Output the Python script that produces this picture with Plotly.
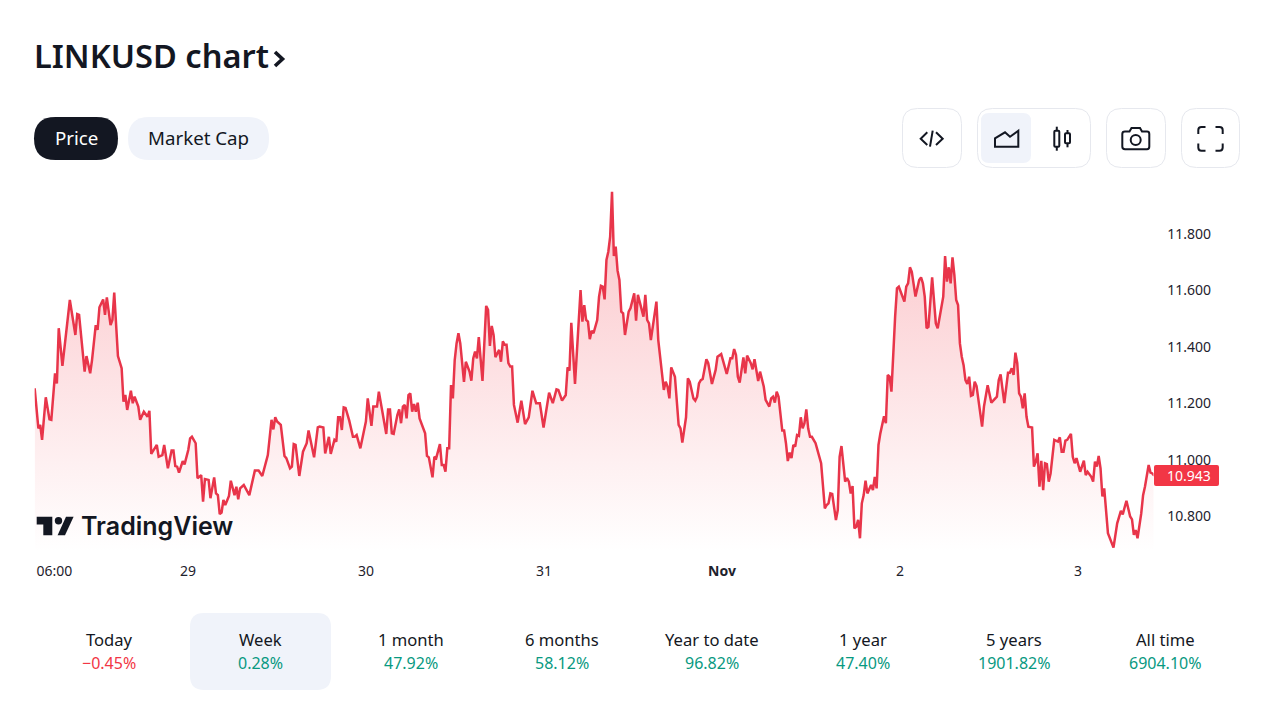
import pandas as pd
import plotly.graph_objects as go

# Bar numbers counted from the first bar (one bar is about a quarter of an hour), with the price read at each one
first_bar = "2023-10-28 03:20"
bar_minutes = 14.97
bars_a = [0,2,3,4,6,8,9,11,12,13,15,17,19,22,23,24,27,28,30,31,33,34,35,37,38,39,41,42,43,45,47,48,49,50,52,53,54,56,57,59,61,62,63,66,67,69,70,72,74,75,76,77,78,80,81,83,84,85,87,88,90,91,92,94,95,97,98,99,100,101,102,103,105,106,108,109,110,111,113,116,119,121,123,126,128,129,130,131,133,135,136,138,139,140,141,143,145,147,148,151,153,154]
price_a = [11.253,11.111,11.123,11.070,11.221,11.143,11.141,11.306,11.270,11.466,11.332,11.460,11.566,11.442,11.516,11.513,11.312,11.367,11.306,11.353,11.477,11.460,11.540,11.568,11.513,11.575,11.477,11.495,11.592,11.367,11.324,11.205,11.229,11.176,11.244,11.200,11.223,11.188,11.141,11.170,11.152,11.173,11.020,11.052,11.010,11.016,11.052,10.969,11.032,11.032,10.977,10.975,10.954,10.995,10.983,11.034,11.075,11.081,11.058,10.934,10.945,10.851,10.931,10.928,10.863,10.937,10.880,10.874,10.807,10.812,10.857,10.839,10.871,10.925,10.874,10.904,10.859,10.898,10.910,10.874,10.961,10.961,10.942,11.016,11.141,11.107,11.150,11.135,11.123,11.013,11.005,10.969,10.975,11.055,11.052,10.942,11.028,11.058,11.103,11.008,11.114,11.117]
bars_b = [156,157,159,160,162,163,164,165,166,167,168,170,172,173,174,176,179,180,182,183,185,186,188,190,191,192,193,194,196,197,198,199,200,201,202,203,204,205,206,207,208,211,212,213,215,216,217,219,220,221,222,223,224,225,226,227,228,229,230,232,233,235,236,237,238,239,240,241,242,244,245,246,247,248,249,251,252,253,254,255,256,257,258,259,261,263,265,267,269,271,273,275,278,280,282,283,285,287,288,289,290,292,293,295,296,297,298,299,300,301,302,304,305,306,307,308,309,310,311,312,313,314,315,316]
price_b = [11.114,11.022,11.081,11.020,11.070,11.064,11.150,11.150,11.105,11.185,11.183,11.138,11.081,11.081,11.087,11.040,11.135,11.217,11.120,11.188,11.188,11.241,11.164,11.091,11.178,11.178,11.093,11.091,11.158,11.178,11.129,11.188,11.194,11.146,11.229,11.235,11.170,11.197,11.170,11.202,11.146,11.093,11.013,11.008,10.937,11.010,11.005,11.055,10.981,10.981,10.957,11.040,11.040,11.264,11.217,11.353,11.412,11.448,11.412,11.276,11.347,11.312,11.280,11.359,11.383,11.359,11.434,11.359,11.279,11.545,11.531,11.403,11.474,11.442,11.363,11.389,11.347,11.419,11.407,11.407,11.342,11.330,11.330,11.194,11.131,11.209,11.126,11.150,11.244,11.200,11.200,11.114,11.237,11.200,11.249,11.247,11.209,11.229,11.327,11.315,11.485,11.268,11.377,11.601,11.489,11.548,11.495,11.489,11.427,11.457,11.448,11.495,11.578,11.616,11.613,11.568,11.708,11.737,11.791,11.950,11.722,11.755,11.670,11.637]
bars_c = [317,318,319,321,322,324,325,326,329,330,331,332,333,336,337,339,340,341,342,343,344,346,348,349,350,352,353,354,356,357,358,359,360,361,363,364,366,368,369,371,372,374,376,377,378,379,380,381,383,384,385,387,388,389,391,392,394,395,397,398,399,400,401,402,404,405,406,407,408,409,410,411,412,413,414,415,416,417,418,419,420,422,425,427,428,429,430,431,433,434,435,436,438,439,440,441,442,443,444,445,446,447,448,449,450,452,453,454,455,456,457,459,460,461,462,463,465,466,467,470,471,472,473,474,476,478]
price_c = [11.525,11.519,11.442,11.525,11.537,11.590,11.493,11.584,11.507,11.584,11.495,11.483,11.424,11.560,11.424,11.294,11.247,11.276,11.259,11.217,11.327,11.294,11.123,11.111,11.060,11.150,11.288,11.276,11.217,11.209,11.223,11.270,11.282,11.286,11.356,11.342,11.268,11.318,11.365,11.374,11.347,11.304,11.359,11.359,11.392,11.371,11.294,11.273,11.362,11.306,11.369,11.342,11.320,11.356,11.279,11.312,11.259,11.212,11.188,11.217,11.223,11.202,11.241,11.223,11.103,11.103,11.058,10.995,11.025,11.005,11.052,11.046,11.087,11.084,11.150,11.111,11.129,11.178,11.111,11.081,11.081,11.058,10.987,10.827,10.839,10.845,10.880,10.878,10.786,10.821,11.010,11.048,10.922,10.934,10.922,10.880,10.906,10.756,10.762,10.786,10.721,10.845,10.874,10.925,10.880,10.910,10.892,10.939,10.898,11.052,11.093,11.154,11.129,11.300,11.294,11.241,11.507,11.607,11.613,11.560,11.613,11.625,11.682,11.666,11.578,11.637]
bars_d = [479,480,481,482,483,485,487,488,491,492,493,494,495,496,497,498,499,500,501,502,503,504,505,506,507,508,509,512,513,515,517,519,520,521,522,524,526,527,528,529,530,531,532,533,534,535,536,537,539,540,541,542,543,544,545,546,547,548,549,551,553,554,555,556,557,558,560,561,562,563,565,567,568,569,571,572,573,574,575,576,577,578,580,583,585,587,588,590,592,593,594,595,596,598,599,600,602,603,604,605]
price_d = [11.646,11.625,11.578,11.466,11.471,11.646,11.483,11.466,11.578,11.722,11.631,11.682,11.625,11.717,11.655,11.566,11.548,11.412,11.365,11.335,11.282,11.268,11.294,11.226,11.229,11.276,11.261,11.117,11.188,11.264,11.202,11.217,11.223,11.282,11.302,11.200,11.308,11.308,11.324,11.300,11.379,11.342,11.235,11.223,11.182,11.235,11.152,11.117,11.114,10.975,10.993,11.022,10.904,10.996,10.892,10.987,10.984,10.922,10.951,11.070,11.064,11.079,11.028,11.028,11.067,11.070,11.091,11.010,10.987,11.005,10.957,10.996,10.945,10.957,10.939,10.922,10.993,10.975,11.013,10.969,10.869,10.898,10.739,10.688,10.774,10.818,10.806,10.854,10.798,10.788,10.733,10.750,10.721,10.809,10.874,10.904,10.981,10.954,10.951,10.943]
assert len(bars_a) == len(price_a), (len(bars_a), len(price_a))
assert len(bars_b) == len(price_b), (len(bars_b), len(price_b))
assert len(bars_c) == len(price_c), (len(bars_c), len(price_c))
assert len(bars_d) == len(price_d), (len(bars_d), len(price_d))

bars = bars_a + bars_b + bars_c + bars_d
prices = price_a + price_b + price_c + price_d
start = pd.Timestamp(first_bar)
times = start + pd.to_timedelta(pd.Series(bars) * bar_minutes, unit="min")

x_tick_vals = ["2023-10-28 06:00", "2023-10-29", "2023-10-30", "2023-10-31", "2023-11-01", "2023-11-02", "2023-11-03"]
x_tick_text = ["06:00", "29", "30", "31", "<b>Nov</b>", "2", "3"]
y_tick_vals = [10.8, 11.0, 11.2, 11.4, 11.6, 11.8]
last_price = "10.943"

title_text = "LINKUSD chart"
periods = ["Today", "Week", "1 month", "6 months", "Year to date", "1 year", "5 years", "All time"]
changes = ["−0.45%", "0.28%", "47.92%", "58.12%", "96.82%", "47.40%", "1901.82%", "6904.10%"]
period_centers = [109, 260, 411, 562, 712, 863, 1014, 1165]

W, H = 1280, 720
RED, GREEN, INK, PALE, EDGE = "#f23645", "#089981", "#131722", "#f0f3fa", "#e6e8ee"
UI = "Noto Sans"
STROKE = 2


def px(x, y):
    return f"{x / W:.5f} {1 - y / H:.5f}"


def poly(points, closed=True):
    return "M" + " L".join(px(*p) for p in points) + (" Z" if closed else "")


def round_rect(x0, y0, x1, y1, r):
    return (f"M{px(x0 + r, y0)} L{px(x1 - r, y0)} Q{px(x1, y0)} {px(x1, y0 + r)} "
            f"L{px(x1, y1 - r)} Q{px(x1, y1)} {px(x1 - r, y1)} L{px(x0 + r, y1)} "
            f"Q{px(x0, y1)} {px(x0, y1 - r)} L{px(x0, y0 + r)} Q{px(x0, y0)} {px(x0 + r, y0)} Z")


def path(d, fill="rgba(0,0,0,0)", line=None, width=0):
    return dict(type="path", path=d, xref="paper", yref="paper", fillcolor=fill,
                line=dict(color=line or "rgba(0,0,0,0)", width=width), layer="above")


def circle(cx, cy, r, fill="rgba(0,0,0,0)", line=None, width=0):
    return dict(type="circle", xref="paper", yref="paper", x0=(cx - r) / W, x1=(cx + r) / W,
                y0=1 - (cy + r) / H, y1=1 - (cy - r) / H, fillcolor=fill,
                line=dict(color=line or "rgba(0,0,0,0)", width=width), layer="above")


def label(x, y, text, size, color=INK, anchor="center", family=UI, weight=None):
    return dict(x=x / W, y=1 - y / H, xref="paper", yref="paper", text=text, showarrow=False,
                xanchor=anchor, yanchor="middle", align="center",
                font=dict(size=size, color=color, family=family, weight=weight))


shapes = [
    path(round_rect(34, 117, 118, 160, 21.5), INK),
    path(round_rect(128, 117, 269, 160, 21.5), PALE),
    path(round_rect(902.5, 108.5, 961.5, 167.5, 15), "white", EDGE, 1),
    path(round_rect(977.5, 108.5, 1090.5, 167.5, 15), "white", EDGE, 1),
    path(round_rect(981, 113, 1031, 163, 8), PALE),
    path(round_rect(1106.5, 108.5, 1165.5, 167.5, 15), "white", EDGE, 1),
    path(round_rect(1181.5, 108.5, 1239.5, 167.5, 15), "white", EDGE, 1),
    path(poly([(927.3, 132.3), (920.7, 138.7), (927.3, 145)], False), line=INK, width=STROKE),
    path(poly([(932.7, 130.7), (930, 146.7)], False), line=INK, width=STROKE),
    path(poly([(936, 132.3), (942.7, 138.7), (936, 145)], False), line=INK, width=STROKE),
    path(poly([(995, 146.7), (995, 138.3), (1005, 132.3), (1010, 136.7), (1018.3, 130.7), (1018.3, 146.7)]), line=INK, width=STROKE),
    path(round_rect(1054.3, 130.7, 1059.3, 146.7, 1), line=INK, width=STROKE),
    path(poly([(1056.8, 126.7), (1056.8, 130.7)], False), line=INK, width=STROKE),
    path(poly([(1056.8, 146.7), (1056.8, 150.7)], False), line=INK, width=STROKE),
    path(round_rect(1065, 133.3, 1070, 143.3, 1), line=INK, width=STROKE),
    path(poly([(1067.5, 130), (1067.5, 133.3)], False), line=INK, width=STROKE),
    path(poly([(1067.5, 143.3), (1067.5, 147.3)], False), line=INK, width=STROKE),
    path(f"M{px(1125, 131.5)} L{px(1129.5, 131.5)} L{px(1131.5, 128)} L{px(1140, 128)} L{px(1142, 131.5)} L{px(1147, 131.5)} "
         f"Q{px(1149.3, 131.5)} {px(1149.3, 134)} L{px(1149.3, 146.5)} Q{px(1149.3, 149.3)} {px(1147, 149.3)} "
         f"L{px(1125, 149.3)} Q{px(1122.3, 149.3)} {px(1122.3, 146.5)} L{px(1122.3, 134)} Q{px(1122.3, 131.5)} {px(1125, 131.5)} Z",
         line=INK, width=STROKE),
    circle(1135.7, 140, 5, line=INK, width=STROKE),
    path(f"M{px(1198.3, 134)} L{px(1198.3, 130)} Q{px(1198.3, 127)} {px(1201.5, 127)} L{px(1205.5, 127)}", line=INK, width=2),
    path(f"M{px(1215.5, 127)} L{px(1219.5, 127)} Q{px(1222.7, 127)} {px(1222.7, 130)} L{px(1222.7, 134)}", line=INK, width=2),
    path(f"M{px(1198.3, 143.5)} L{px(1198.3, 147.5)} Q{px(1198.3, 150.7)} {px(1201.5, 150.7)} L{px(1205.5, 150.7)}", line=INK, width=2),
    path(f"M{px(1215.5, 150.7)} L{px(1219.5, 150.7)} Q{px(1222.7, 150.7)} {px(1222.7, 147.5)} L{px(1222.7, 143.5)}", line=INK, width=2),
    path(poly([(36.7, 516.7), (52.3, 516.7), (52.3, 535.2), (43.3, 535.2), (43.3, 524.5), (36.7, 524.5)]), INK),
    circle(58.5, 520.7, 3.7, INK),
    path(poly([(66, 516.7), (73.6, 516.7), (65, 535.2), (57.6, 535.2)]), INK),
    path(poly([(275, 52), (282.5, 59), (275, 66)], False), line=INK, width=3.6),
    path(round_rect(190, 613, 331, 690, 14), PALE),
    path(round_rect(1154, 465, 1219, 486, 2), RED),
]

annotations = [
    label(32, 56, title_text, 32.6, anchor="left", weight=600),
    label(76, 137, "Price", 18.7, "white"),
    label(198, 137, "Market Cap", 18.7),
    label(79, 526, "TradingView", 25, anchor="left", family="Inter", weight=600),
    label(1189, 475, last_price, 14, "white"),
]
for name, change, centre in zip(periods, changes, period_centers):
    annotations.append(label(centre, 639, name, 16.6))
    annotations.append(label(centre, 663, change, 16, RED if change.startswith("−") else GREEN))

plot_left, plot_right, plot_top, plot_bottom = 34.67, 1153.5, 188, 552
px_per_hour = 178 / 24
y_low = 11.8 - (plot_bottom - 234) / 282
y_high = 11.8 + (234 - plot_top) / 282
x_end = start + pd.Timedelta(hours=(plot_right - plot_left) / px_per_hour)

fig = go.Figure(go.Scatter(
    x=times, y=prices, mode="lines", line=dict(color="#e8354a", width=2.5),
    fill="tozeroy",
    fillgradient=dict(type="vertical", start=y_low, stop=11.956,
                      colorscale=[[0, "rgba(242,54,69,0)"], [1, "rgba(242,54,69,0.30)"]]),
    hoverinfo="skip",
))
axis_font = dict(family="Noto Sans", size=14, color="#1e222d")
fig.update_layout(
    width=W, height=H, margin=dict(l=0, r=0, t=0, b=0), paper_bgcolor="white", plot_bgcolor="white",
    showlegend=False, shapes=shapes, annotations=annotations,
    xaxis=dict(domain=[plot_left / W, plot_right / W], range=[start, x_end],
               type="date", showgrid=False, zeroline=False, showline=False,
               tickmode="array", tickvals=x_tick_vals, ticktext=x_tick_text,
               ticks="outside", ticklen=6, tickcolor="rgba(0,0,0,0)", tickfont=axis_font),
    yaxis=dict(domain=[1 - plot_bottom / H, 1 - plot_top / H], range=[y_low, y_high],
               side="right", showgrid=False, zeroline=False, showline=False,
               tickmode="array", tickvals=y_tick_vals, ticktext=[f"{v:.3f}" for v in y_tick_vals],
               ticks="outside", ticklen=10, tickcolor="rgba(0,0,0,0)", tickfont=axis_font),
)
fig.write_html("out.html", config=dict(displayModeBar=False),
               post_script="document.body.style.margin='0';document.body.style.overflow='hidden';")
